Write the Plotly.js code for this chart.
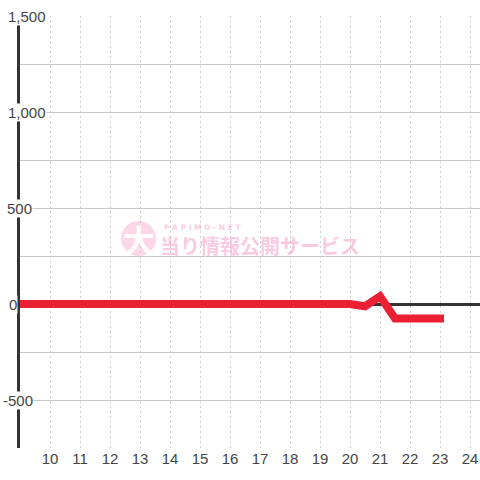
<!DOCTYPE html>
<html>
<head>
<meta charset="utf-8">
<script src="https://cdn.plot.ly/plotly-3.0.1.min.js"></script>
<style>
html,body{margin:0;padding:0;background:#fff;}
#chart{width:480px;height:480px;}
.scatterlayer .js-line{stroke-linecap:square;}
</style>
</head>
<body>
<div id="chart"></div>
<script>
// ---- data ----
var hours = [9, 9.5, 10, 10.5, 11, 11.5, 12, 12.5, 13, 13.5, 14, 14.5, 15, 15.5, 16, 16.5,
             17, 17.5, 18, 18.5, 19, 19.5, 20, 20.5, 21, 21.5, 22, 22.5, 23];
var balance = [0, 0, 0, 0, 0, 0, 0, 0, 0, 0, 0, 0, 0, 0, 0, 0,
               0, 0, 0, 0, 0, 0, 0, -12, 40, -75, -75, -75, -75];
var xTickVals = [10, 11, 12, 13, 14, 15, 16, 17, 18, 19, 20, 21, 22, 23, 24];
var xTickText = ['10', '11', '12', '13', '14', '15', '16', '17', '18', '19', '20', '21', '22', '23', '24'];
var yGridVals = [-750, -500, -250, 0, 250, 500, 750, 1000, 1250, 1500];
var yLabelVals = [1500, 1000, 500, 0, -500];
var yLabelText = ['1,500', '1,000', '500', '0', '-500'];

// ---- layout helpers (pixel placement only) ----
var M = {l: 20, r: 0, t: 16, b: 32};
var PW = 480 - M.l - M.r, PH = 480 - M.t - M.b;
function px2paperX(px) { return (px - M.l) / PW; }
function px2paperY(py) { return (480 - M.b - py) / PH; }
var yLabelLeftPx = [7, 7, 6, 8, 2];

var annotations = yLabelVals.map(function (v, i) {
  return {
    xref: 'paper', yref: 'y', x: px2paperX(yLabelLeftPx[i]), y: v,
    xanchor: 'left', yanchor: 'middle', text: yLabelText[i], showarrow: false,
    bgcolor: '#ffffff', borderpad: 0,
    font: {family: 'Liberation Sans, Arial, sans-serif', size: 15, color: '#444'}
  };
});
// watermark
annotations.push({
  xref: 'paper', yref: 'paper', x: px2paperX(139), y: px2paperY(239),
  xanchor: 'center', yanchor: 'middle', text: '<b>大</b>', showarrow: false,
  font: {family: 'Noto Sans CJK JP', size: 32, color: 'rgba(255,255,255,0.95)'}
});
annotations.push({
  xref: 'paper', yref: 'paper', x: px2paperX(158), y: px2paperY(245),
  xanchor: 'left', yanchor: 'middle', text: '<b>当り情報公開サービス</b>', showarrow: false,
  font: {family: 'Noto Sans CJK JP', size: 20, color: 'rgba(247,150,195,0.5)'}
});
annotations.push({
  xref: 'paper', yref: 'paper', x: px2paperX(162), y: px2paperY(227),
  xanchor: 'left', yanchor: 'middle', text: '<b>P A P I M O - N E T</b>', showarrow: false,
  font: {family: 'DejaVu Sans', size: 7.5, color: 'rgba(247,150,195,0.5)'}
});

var shapes = [{
  type: 'circle', xref: 'paper', yref: 'paper', layer: 'above',
  x0: px2paperX(121), x1: px2paperX(156), y0: px2paperY(256), y1: px2paperY(221),
  fillcolor: 'rgba(247,160,200,0.42)', line: {width: 0}
}];

var trace = {
  x: hours, y: balance, type: 'scatter', mode: 'lines',
  line: {color: '#ec2035', width: 8, shape: 'linear'},
  hoverinfo: 'skip'
};

var layout = {
  width: 480, height: 480,
  margin: M,
  paper_bgcolor: '#ffffff', plot_bgcolor: '#ffffff',
  showlegend: false, hovermode: false,
  xaxis: {
    range: [9, 9 + PW / 30], tickmode: 'array', tickvals: xTickVals, ticktext: xTickText,
    showgrid: true, gridcolor: '#cfcfcf', gridwidth: 1, griddash: '2px,3px',
    zeroline: false, showline: false, ticks: '', fixedrange: true,
    tickfont: {family: 'Liberation Sans, Arial, sans-serif', size: 15, color: '#444'}
  },
  yaxis: {
    range: [-750, 1500], tickmode: 'array', tickvals: yGridVals, showticklabels: false,
    showgrid: true, gridcolor: '#c8c8c8', gridwidth: 1,
    zeroline: true, zerolinecolor: '#333', zerolinewidth: 3,
    showline: true, linecolor: '#333', linewidth: 3, ticks: '', fixedrange: true
  },
  annotations: annotations,
  shapes: shapes
};

Plotly.newPlot('chart', [trace], layout, {displayModeBar: false, staticPlot: true});
</script>
</body>
</html>
